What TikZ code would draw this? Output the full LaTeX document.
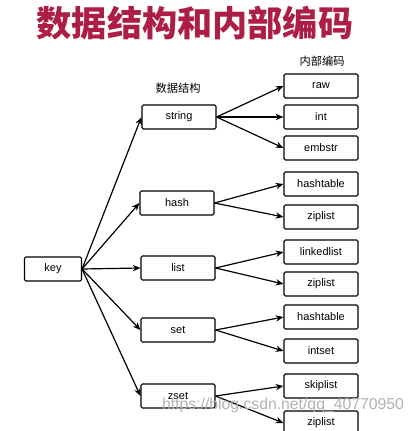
\documentclass[tikz,border=0pt]{standalone}
\usepackage{fontspec}
\setmainfont{Liberation Sans}
\newfontfamily\cjk{Noto Sans CJK SC}
\usetikzlibrary{arrows.meta}
\definecolor{titlered}{RGB}{172,30,70}
\begin{document}
\begin{tikzpicture}[x=0.025cm, y=-0.025cm, >={Stealth[length=5.5pt,width=4.5pt]},
  box/.style={draw, line width=0.75pt, rounded corners=1pt, minimum width=1.85cm, minimum height=0.6cm, inner sep=0pt, font=\fontsize{7.8}{9}\selectfont},
  lbl/.style={font=\cjk\fontsize{8}{10}\selectfont},
  link/.style={->, line width=0.85pt}]
\useasboundingbox (0,0) rectangle (414,431);
\clip (0,0) rectangle (414,431);
\node[font=\cjk\bfseries\fontsize{25}{28}\selectfont, text=titlered] (title) at (195,23) {数据结构和内部编码};
\node[lbl] (codes) at (322,61) {内部编码};
\node[lbl] (structs) at (178,88) {数据结构};
\node[box, minimum width=1.425cm] (key) at (53,269) {key};
\node[box] (string) at (179,117) {string};
\node[box] (hash) at (177,203) {hash};
\node[box] (list) at (178,268) {list};
\node[box] (set) at (178,330) {set};
\node[box] (zset) at (178,396) {zset};
\node[box] (raw) at (321,86) {raw};
\node[box] (int) at (321,117) {int};
\node[box] (embstr) at (321,148) {embstr};
\node[box] (hashtable) at (321,184) {hashtable};
\node[box] (ziplisth) at (321,217) {ziplist};
\node[box] (linkedlist) at (321,252) {linkedlist};
\node[box] (ziplistl) at (321,284) {ziplist};
\node[box] (hashtables) at (321,317) {hashtable};
\node[box] (intset) at (321,351) {intset};
\node[box] (skiplist) at (321,386) {skiplist};
\node[box] (ziplistz) at (321,423) {ziplist};
\draw[link] (key.east) -- (string.west);
\draw[link] (key.east) -- (hash.west);
\draw[link] (key.east) -- (list.west);
\draw[link] (key.east) -- (set.west);
\draw[link] (key.east) -- (zset.west);
\draw[link] (string.east) -- (raw.west);
\draw[link] (string.east) -- (int.west);
\draw[link] (string.east) -- (embstr.west);
\draw[link] (hash.east) -- (hashtable.west);
\draw[link] (hash.east) -- (ziplisth.west);
\draw[link] (list.east) -- (linkedlist.west);
\draw[link] (list.east) -- (ziplistl.west);
\draw[link] (set.east) -- (hashtables.west);
\draw[link] (set.east) -- (intset.west);
\draw[link] (zset.east) -- (skiplist.west);
\draw[link] (zset.east) -- (ziplistz.west);
\node[font=\fontsize{11.2}{13}\selectfont, text=gray!60] (mark) at (283,405) {https://blog.csdn.net/qq\_40770950};
\end{tikzpicture}
\end{document}
